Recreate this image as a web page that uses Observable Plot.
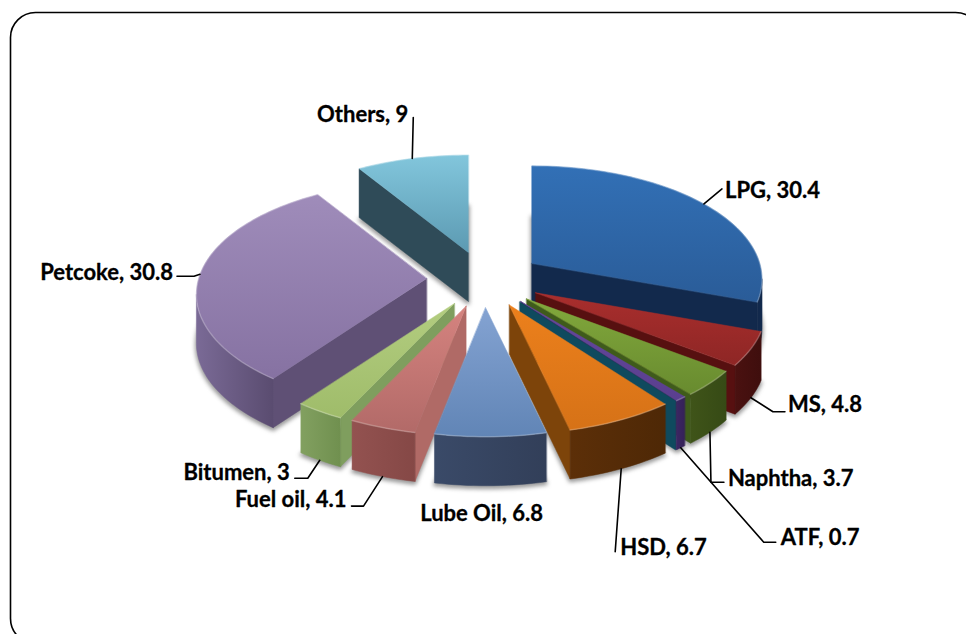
<!DOCTYPE html>
<html>
<head>
<meta charset="utf-8">
<script src="https://cdn.jsdelivr.net/npm/d3@7"></script>
<script src="https://cdn.jsdelivr.net/npm/@observablehq/plot@0.6"></script>
<style>
html,body{margin:0;padding:0;background:#fff;overflow:hidden}
svg{display:block}
</style>
</head>
<body>
<div id="chart"></div>
<script>
// ---- values (clockwise from twelve o'clock) ----
const products = ["LPG","MS","Naphtha","ATF","(unlabelled)","HSD","Lube Oil","Fuel oil","Bitumen","Petcoke","Others"];
const shares   = [30.4,4.8,3.7,0.7,0,6.7,6.8,4.1,3,30.8,9];

// ---- colours: [top light, top dark, radial wall, rim light, rim dark] ----
const palette = [
  ["#3270b6","#2a5c98","#12294c","#12294c","#12294c"],
  ["#a92e2d","#8e2625","#571010","#4a1110","#3f0e0d"],
  ["#82a83c","#688b2f","#3f5b1b","#3f5419","#364a15"],
  ["#64479e","#5a3f8e","#38245c","#3b2663","#352157"],
  ["#0f5064","#0f5064","#0f4a5e","#0f4a5e","#0f4a5e"],
  ["#ec801c","#d67217","#7d440a","#5c2f08","#4e2806"],
  ["#84a3d2","#6185b6","#35445f","#3a4a68","#323f59"],
  ["#d5837f","#b26a68","#b06a66","#935250","#854846"],
  ["#b3cd80","#9fbc6a","#7f9e5e","#82a060","#70904f"],
  ["#9f8cba","#8672a2","#5f5075","#7a6a96","#5a4c70"],
  ["#82c6dc","#5c9ab2","#2f4b58","#2f4b58","#2f4b58"]
];

// ---- leader layout: elbow and tail offsets from the slice's rim anchor ----
const elbowDx = [18,22,1,83,null,-6,null,-19,-12,-6,1];
const elbowDy = [-15,14,50,94.5,null,83,null,29.5,18,2,-41];
const tailDx  = [0,12,13,12,null,0,null,-12,-13,-17,0];
const labelDx = [3,3,4,5,null,5,-9,-5,-5,-4,-5];
const labelDy = [2,-7,-3,-4,null,-4,28,-6,-5,-3.5,-3];

const paintOrder = [10,9,8,7,0,1,2,3,4,5,6];

// ---- pie geometry ----
const cx = 484, cy = 279, Rx = 228, Ry = 111, persp = 0.14, burst = 0.254, depth = 49;
const rad = d => d * Math.PI / 180;
const rimFrom = 180 - rad2deg(Math.acos(persp));
function rad2deg(r){return r * 180 / Math.PI;}
const rimTo = 360 - rimFrom;

const total = d3.sum(shares);
let running = 0;
const slices = products.map((name,i) => {
  const start = running / total * 360;
  running += shares[i];
  const end = running / total * 360;
  const mid = (start + end) / 2;
  const apex = [cx + Rx*burst*Math.sin(rad(mid)), cy - Ry*burst*Math.cos(rad(mid))];
  const at = th => {
    const c = Math.cos(rad(th)), s = 1/(1+persp*c);
    return [apex[0] + Rx*Math.sin(rad(th))*s, apex[1] - Ry*c*s];
  };
  return {name,i,value:shares[i],start,end,mid,apex,at};
});

const pt = p => ({x:p[0],y:p[1]});
const down = (p,d=depth) => [p[0],p[1]+d];
const arc = (s,a,b) => {
  const n = Math.max(1,Math.ceil((b-a)/1.5));
  return d3.range(n+1).map(k => s.at(a+(b-a)*k/n));
};
const cross = (a,b) => a[0]*b[1]-a[1]*b[0];
const minus = (a,b) => [a[0]-b[0],a[1]-b[1]];

// ---- gradient definitions ----
function defsMark(){
  const defs = d3.create("svg:defs");
  palette.forEach((c,i) => {
    const t = defs.append("linearGradient").attr("id",`top${i}`).attr("x1",0).attr("y1",0).attr("x2",0).attr("y2",1);
    t.append("stop").attr("offset","0%").attr("stop-color",c[0]);
    t.append("stop").attr("offset","100%").attr("stop-color",c[1]);
    const r = defs.append("linearGradient").attr("id",`rim${i}`).attr("x1",0).attr("y1",0).attr("x2",1).attr("y2",0);
    r.append("stop").attr("offset","0%").attr("stop-color",c[3]);
    r.append("stop").attr("offset","100%").attr("stop-color",c[4]);
  });
  return defs.node();
}

const poly = (pts,fill,extra={}) => Plot.line(pts.map(pt),{x:"x",y:"y",curve:"linear-closed",fill,stroke:fill,strokeWidth:0.5,...extra});

const sliceMarks = [];
for (const idx of paintOrder) {
  const s = slices[idx];
  const A = s.apex, P = s.at(s.start), Q = s.at(s.end);
  const top = [A,...arc(s,s.start,s.end)];
  const wallColor = palette[idx][2];
  if (s.value === 0) {
    sliceMarks.push(poly([A,P,down(P),down(A)],wallColor));
    continue;
  }
  // soft shadow below the slice
  sliceMarks.push(poly(top.map(p=>down(p,depth+2)),"#555",{stroke:"#555",strokeWidth:3,fillOpacity:0.55,strokeOpacity:0.45,imageFilter:"blur(2px)"}));
  // radial walls that face the viewer
  for (const [E,O] of [[P,Q],[Q,P]]) {
    const e = minus(E,A), o = minus(O,A);
    if (cross(e,[0,1])*cross(e,o) < 0 && Math.abs(e[0]) > 2) {
      sliceMarks.push(poly([A,E,down(E),down(A)],wallColor));
    }
  }
  // outer rim where it faces the viewer
  const a = Math.max(s.start,rimFrom), b = Math.min(s.end,rimTo);
  if (b > a) {
    const edge = arc(s,a,b);
    sliceMarks.push(poly([...edge,...edge.slice().reverse().map(p=>down(p))],`url(#rim${idx})`));
  }
  // top surface
  sliceMarks.push(poly(top,`url(#top${idx})`));
  // bevel highlight along the arc
  sliceMarks.push(Plot.line(arc(s,s.start,s.end).map(pt),{x:"x",y:"y",stroke:"#fff",strokeOpacity:0.22,strokeWidth:1.5}));
}

// ---- leaders and labels ----
const leaderPaths = [], labels = [];
for (const s of slices) {
  if (s.value === 0) continue;
  const i = s.i;
  const rimPoint = s.at(s.mid);
  const visibleRim = s.mid > rimFrom && s.mid < rimTo;
  const anchor = visibleRim ? down(rimPoint) : rimPoint;
  let end = anchor;
  if (elbowDx[i] !== null) {
    const elbow = [anchor[0]+elbowDx[i],anchor[1]+elbowDy[i]];
    const tail = [elbow[0]+tailDx[i],elbow[1]];
    [anchor,elbow,tail].forEach(p => leaderPaths.push({id:s.name,x:p[0],y:p[1]}));
    end = tail;
  }
  labels.push({
    text:`${s.name}, ${s.value}`,
    x:end[0]+labelDx[i], y:end[1]+labelDy[i],
    anchor: s.name==="Lube Oil" ? "middle" : (labelDx[i] < 0 ? "end" : "start")
  });
}
const labelMark = a => Plot.text(labels.filter(d=>d.anchor===a),{x:"x",y:"y",text:"text",textAnchor:a,lineAnchor:"middle",
  fontFamily:"Lato, 'Open Sans', sans-serif",fontWeight:"bold",fontSize:22,fill:"#000",stroke:"#000",strokeWidth:0.3});

const chart = Plot.plot({
  width:966,height:634,
  marginLeft:10,marginTop:12,marginRight:-14,marginBottom:-9,
  x:{domain:[10,980],axis:null},
  y:{domain:[12,643],range:[12,643],axis:null},
  style:{background:"#fff"},
  marks:[
    defsMark,
    Plot.frame({rx:25,stroke:"#000",strokeWidth:1.6}),
    ...sliceMarks,
    Plot.line(leaderPaths,{x:"x",y:"y",z:"id",stroke:"#000",strokeWidth:1.6}),
    labelMark("start"),labelMark("end"),labelMark("middle")
  ]
});
document.getElementById("chart").append(chart);
</script>
</body>
</html>
